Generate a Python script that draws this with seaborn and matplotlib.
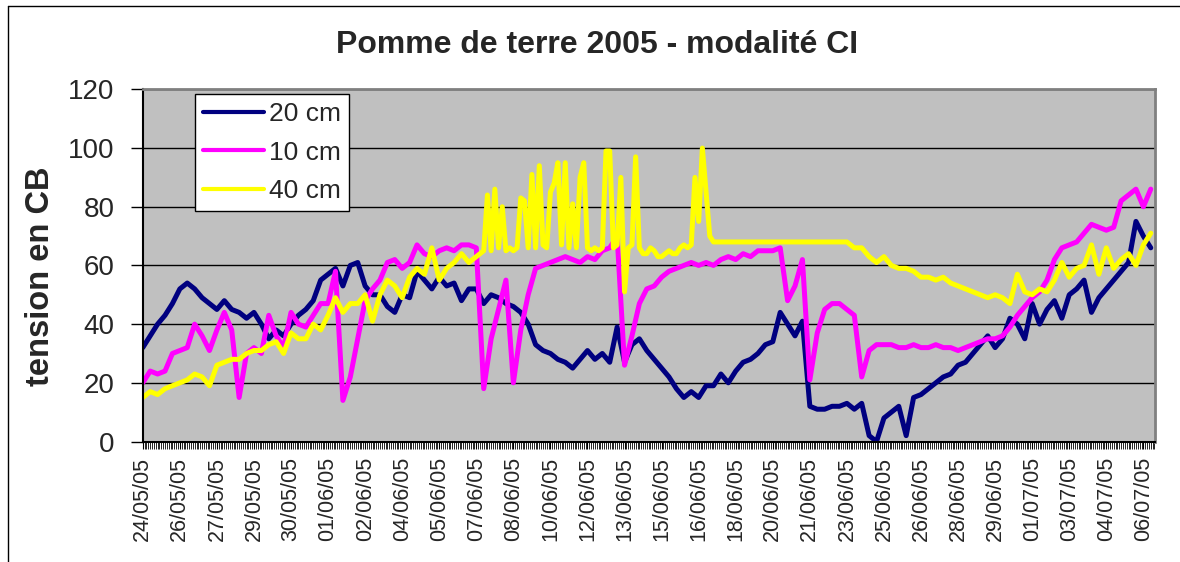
import matplotlib
matplotlib.use("Agg")
import matplotlib.pyplot as plt
import seaborn as sns
import numpy as np
import pandas as pd
from matplotlib.lines import Line2D
from matplotlib.ticker import MultipleLocator

# ---- data ----
dates = ["24/05/05", "26/05/05", "27/05/05", "29/05/05", "30/05/05", "01/06/05",
         "02/06/05", "04/06/05", "05/06/05", "07/06/05", "08/06/05", "10/06/05",
         "12/06/05", "13/06/05", "15/06/05", "16/06/05", "18/06/05", "20/06/05",
         "21/06/05", "23/06/05", "25/06/05", "26/06/05", "28/06/05", "29/06/05",
         "01/07/05", "03/07/05", "04/07/05", "06/07/05"]
label_every = 5  # one date label every 5 readings

# 20 cm and 10 cm: one value per reading (0 .. 136)
s20 = [32, 36, 40, 43, 47, 52, 54, 52, 49, 47, 45, 48, 45, 44, 42, 44, 40, 35, 38, 36, 40, 43, 45,
       48, 55, 57, 59, 53, 60, 61, 53, 50, 50, 46, 44, 50, 49, 58, 55, 52, 56, 53, 54, 48, 52, 52,
       47, 50, 49, 47, 46, 44, 40, 33, 31, 30, 28, 27, 25, 28, 31, 28, 30, 27, 39, 27, 33, 35, 31,
       28, 25, 22, 18, 15, 17, 15, 19, 19, 23, 20, 24, 27, 28, 30, 33, 34, 44, 40, 36, 41, 12, 11,
       11, 12, 12, 13, 11, 13, 2, 0, 8, 10, 12, 2, 15, 16, 18, 20, 22, 23, 26, 27, 30, 33, 36,
       32, 35, 42, 40, 35, 47, 40, 45, 48, 42, 50, 52, 55, 44, 49, 52, 55, 58, 61, 75, 70, 66]

s10 = [20, 24, 23, 24, 30, 31, 32, 40, 36, 31, 38, 44, 38, 15, 30, 32, 30, 43, 36, 32, 44, 40, 39,
       43, 47, 47, 58, 14, 22, 35, 48, 52, 55, 61, 62, 59, 61, 67, 64, 63, 65, 66, 65, 67, 67, 66,
       18, 35, 45, 55, 20, 38, 50, 59, 60, 61, 62, 63, 62, 61, 63, 62, 65, 66, 70, 26, 36, 47, 52,
       53, 56, 58, 59, 60, 61, 60, 61, 60, 62, 63, 62, 64, 63, 65, 65, 65, 66, 48, 53, 62, 21, 37,
       45, 47, 47, 45, 43, 22, 31, 33, 33, 33, 32, 32, 33, 32, 32, 33, 32, 32, 31, 32, 33, 34, 35,
       35, 36, 39, 43, 46, 49, 51, 55, 62, 66, 67, 68, 71, 74, 73, 72, 73, 82, 84, 86, 80, 86]

# 40 cm: readings 0..44, half readings 45..77 (spiky period), readings 78..136
r40 = np.concatenate([np.arange(0, 45), np.arange(45, 77.01, 0.5), np.arange(78, 137)])
s40 = [15, 17, 16, 18, 19, 20, 21, 23, 22, 19, 26, 27, 28, 28, 30, 31, 31, 33, 34, 30, 37, 35, 35,
       40, 38, 43, 49, 44, 47, 47, 50, 41, 50, 55, 53, 49, 56, 59, 57, 66, 55, 59, 61, 64, 61,
       63, 64, 65, 84, 65, 86, 66, 80, 65, 66,
       65, 66, 83, 82, 66, 91, 66, 94, 67, 66,
       85, 88, 95, 67, 95, 66, 81, 66, 90, 95,
       66, 65, 66, 65, 66, 99, 99, 66, 67, 90,
       51, 66, 67, 97, 66, 64, 64, 66, 65, 63,
       63, 64, 65, 64, 64, 66, 67, 66, 67, 90,
       75, 100, 85, 70, 68,
       68, 68, 68, 68, 68, 68, 68, 68, 68, 68, 68, 68, 68, 68,
       68, 68, 68, 68, 66, 66, 63, 61, 63, 60, 59, 59, 58, 56, 56, 55, 56, 54, 53, 52, 51, 50, 49,
       50, 49, 47, 57, 51, 50, 52, 51, 55, 61, 56, 59, 60, 67, 57, 66, 59, 62, 64, 60, 67, 71]

series_names = ["20 cm", "10 cm", "40 cm"]
series_x = [np.arange(len(s20)), np.arange(len(s10)), r40]
series_values = [s20, s10, s40]
colors = ["#000080", "#FF00FF", "#FFFF00"]

title = "Pomme de terre 2005 - modalité CI"
ylabel = "tension en CB"

# ---- figure ----
sns.set_theme(style="white")
plt.rcParams["font.family"] = ["Liberation Sans", "DejaVu Sans"]

fig = plt.figure(figsize=(11.8, 5.62), dpi=100)
ax = fig.add_axes([0.121, 0.2144, 0.858, 0.6266])

df = pd.concat(
    [pd.DataFrame({"reading": x, "tension": v, "profondeur": n})
     for n, x, v in zip(series_names, series_x, series_values)],
    ignore_index=True)

sns.lineplot(data=df, x="reading", y="tension", hue="profondeur",
             hue_order=series_names, palette=dict(zip(series_names, colors)),
             estimator=None, sort=False, linewidth=3.6, ax=ax)
for ln in ax.get_lines():
    ln.set_linewidth(3.6)
    ln.set_solid_joinstyle("round")
    ln.set_solid_capstyle("round")

ax.set_facecolor("#C0C0C0")
ax.set_ylim(0, 120)
ax.set_yticks(range(0, 121, 20))
ax.set_xlim(0.36, 136.6)
ax.set_xticks(np.arange(len(dates)) * label_every)
ax.set_xticklabels(dates, rotation=90, fontsize=15.5)
ax.xaxis.set_minor_locator(MultipleLocator(0.25))
ax.tick_params(axis="x", which="major", length=5, width=0.8, color="black",
               pad=6, bottom=True)
ax.tick_params(axis="x", which="minor", length=5, width=0.6, color="black",
               bottom=True)
ax.tick_params(axis="y", which="major", length=9, width=1, color="black",
               labelsize=20, pad=11.5, left=True)
ax.grid(axis="y", color="black", lw=1)
ax.grid(axis="x", visible=False)
ax.set_axisbelow(True)

for side in ["left", "bottom"]:
    ax.spines[side].set_color("black")
    ax.spines[side].set_linewidth(1.5)
for side in ["top", "right"]:
    ax.spines[side].set_color("#808080")
    ax.spines[side].set_linewidth(2)

ax.set_xlabel("")
ax.set_ylabel(ylabel, fontsize=23.5, fontweight="bold")
ax.yaxis.set_label_coords(-0.1015, 0.47)
ax.yaxis.label.set_va("center")

ax.set_title(title, fontsize=23, fontweight="bold", x=0.449, y=1.125,
             va="center", pad=0)

handles, labels = ax.get_legend_handles_labels()
leg = ax.legend(handles, labels, loc="upper left", bbox_to_anchor=(0.0517, 0.987),
                frameon=True, fancybox=False, framealpha=1, edgecolor="black",
                facecolor="white", fontsize=19, handlelength=2.3,
                handletextpad=0.2, labelspacing=0.56, borderpad=0.3,
                borderaxespad=0)
leg.get_frame().set_linewidth(1)
for h in leg.get_lines():
    h.set_linewidth(3.0)

# outer chart frame (left and top edges visible in the reference)
fig.add_artist(Line2D([8 / 1180, 8 / 1180], [0, 1 - 6 / 562], color="black",
                      lw=1, transform=fig.transFigure))
fig.add_artist(Line2D([8 / 1180, 1], [1 - 6 / 562, 1 - 6 / 562], color="black",
                      lw=1, transform=fig.transFigure))

fig.savefig("out.png", dpi=100)
